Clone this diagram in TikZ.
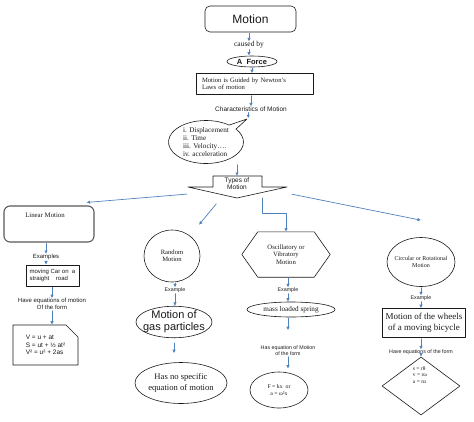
\documentclass[tikz,border=0pt]{standalone}
\usepackage{fontspec}
\setmainfont{Liberation Serif}
\setsansfont{Liberation Sans}
\usetikzlibrary{arrows.meta,positioning,shapes.geometric,shapes.misc,shapes.callouts}
\definecolor{moBlue}{HTML}{4F81BD}
\definecolor{moInk}{HTML}{1A1A1A}
\definecolor{moFrame}{HTML}{595959}
\tikzset{
  mo diagram/.style={x=1pt, y=-1pt, text=moInk, line cap=round, line join=round},
  mo shape/.style={draw=moInk, fill=white, line width=0.6pt, align=center, inner sep=0pt},
  mo box/.style={mo shape, rectangle},
  mo oval/.style={mo shape, ellipse},
  mo arrow/.style={-{Latex[length=3.5pt,width=3.5pt]}, draw=moBlue, line width=0.7pt,
    shorten <=1pt},
  mo label/.style={font=\sffamily\fontsize{6}{6.8}\selectfont, align=center, inner sep=0pt},
  mo small/.style={mo label, font=\sffamily\fontsize{5.3}{6.3}\selectfont},
  mo serif/.style={font=\rmfamily\fontsize{6.6}{7.4}\selectfont, align=center, inner sep=0pt}
}

\begin{document}
\begin{tikzpicture}[mo diagram]
\useasboundingbox (0,0) rectangle (474,421);
% top chain
\node[mo box, rounded corners=5pt, minimum width=91pt, minimum height=26pt,
  font=\sffamily\fontsize{12}{14}\selectfont] (motion) at (250.5,19) {Motion};
\node[mo serif, font=\rmfamily\fontsize{7.5}{8}\selectfont] (causedby) at (249,45) {caused by};
\node[mo oval, minimum width=50pt, minimum height=11pt,
  font=\sffamily\bfseries\fontsize{7.5}{8}\selectfont] (force) at (252,61.5) {A\ \ Force};
\node[mo box, minimum width=117pt, minimum height=21pt, inner xsep=6pt, text width=105pt,
  align=left, font=\rmfamily\fontsize{6.6}{7.4}\selectfont] (newton) at (254.5,84)
  {Motion is Guided by Newton's\\Laws of motion};
\node[mo label, font=\sffamily\fontsize{6.5}{7}\selectfont] (charact) at (251,109) {Characteristics of Motion};
\node[mo shape, ellipse callout, callout absolute pointer={(247,119)}, minimum width=75pt,
  minimum height=43pt, align=left, font=\rmfamily\fontsize{7.2}{8.3}\selectfont]
  (charlist) at (206,142) {i. Displacement\\ii. Time\\iii. Velocity….\\iv. acceleration};
\draw[mo arrow] (motion.south -| causedby.north) -- (causedby.north);
\draw[mo arrow] (causedby.south) -- (causedby.south |- force.north);
\draw[mo arrow] (force.south) -- (force.south |- newton.north);
\draw[mo arrow] (newton.south -| charact.north) -- (charact.north);

% types of motion
\draw[draw=moInk, line width=0.6pt, fill=white] (213,176) -- (262,176) -- (262,187)
  -- (287,187) -- (237,198) -- (188,187) -- (213,187) -- cycle;
\node[mo label, font=\sffamily\fontsize{6.5}{7}\selectfont] (types) at (237,184) {Types of\\Motion};
\coordinate (typesW) at (188,194);
\coordinate (typesSW) at (217,203);
\coordinate (typesSE) at (262,197);
\coordinate (typesE) at (291,194);
\draw[mo arrow] (charact.south -| charlist.pointer) -- (charlist.pointer);
\draw[mo arrow] (types.north |- charlist.south) -- (types.north |- 0,176);

% linear
\node[mo box, draw=moFrame, line width=1.1pt, rounded corners=6pt, minimum width=90pt,
  minimum height=36pt] (linear) at (49,224) {};
\node[mo serif, font=\rmfamily\fontsize{6.8}{7.5}\selectfont] (linearTxt) at (45,215) {Linear Motion};
\node[mo label] (exL) at (46,257) {Examples};
\node[mo box, minimum width=53pt, minimum height=21pt, align=left,
  font=\sffamily\fontsize{6}{7.5}\selectfont] (car) at (52.5,275.5) {moving Car on\ \ a\\straight\ \ \ \ road};
\node[mo label] (haveL) at (52,304) {Have equations of motion\\Of the form};
\node[mo box, chamfered rectangle, chamfered rectangle corners=north east,
  chamfered rectangle xsep=6pt, chamfered rectangle ysep=6pt, minimum width=65pt,
  minimum height=40pt, align=left, font=\sffamily\fontsize{6.5}{7.5}\selectfont]
  (eqL) at (45.5,345) {V = u + at\\S = ut + ½ at²\\V² = u² + 2as};
\draw[mo arrow] (linear.south -| exL.north) -- (exL.north);
\draw[mo arrow] (exL.south) -- (exL.south |- car.north);
\draw[mo arrow] (car.south -| haveL.north) -- (haveL.north);
\draw[mo arrow] (haveL.south) -- (haveL.south |- eqL.north);

% random
\node[mo oval, minimum width=56pt, minimum height=52pt, mo serif] (random) at (172,256) {Random\\Motion};
\node[mo small] (exR) at (175,290) {Example};
\node[mo oval, minimum width=76pt, minimum height=31pt, inner xsep=-4pt,
  font=\sffamily\fontsize{11}{12}\selectfont] (gas) at (174,322) {Motion of\\gas particles};
\node[mo oval, minimum width=92pt, minimum height=41pt, inner xsep=-2.5pt,
  font=\rmfamily\fontsize{8.6}{10.5}\selectfont] (nospec) at (181,383) {Has no specific\\equation of motion};
\draw[mo arrow] (random.south -| exR.north) -- (exR.north);
\draw[mo arrow] (exR.south) -- (exR.south |- gas.north);
\draw[mo arrow, shorten <=5pt, shorten >=9pt] (gas.south) -- (gas.south |- nospec.north);

% oscillatory
\node[mo serif, font=\rmfamily\fontsize{6.7}{7.6}\selectfont, minimum width=88pt,
  minimum height=45pt] (osc) at (286,254.5) {Oscillatory or\\Vibratory\\Motion};
\draw[draw=moInk, line width=0.6pt] ([xshift=16pt]osc.north west) -- ([xshift=-16pt]osc.north east)
  -- (osc.east) -- ([xshift=-16pt]osc.south east) -- ([xshift=16pt]osc.south west) -- (osc.west) -- cycle;
\node[mo small] (exO) at (288,290) {Example};
\node[mo oval, minimum width=88pt, minimum height=15pt,
  font=\rmfamily\fontsize{7.2}{8}\selectfont] (spring) at (291,309.5) {mass loaded spring};
\node[mo small] (haveO) at (288,350.5) {Has equation of Motion\\of the form};
\node[mo oval, minimum width=58pt, minimum height=36pt,
  font=\rmfamily\fontsize{5.8}{7.5}\selectfont] (fkx) at (279,390) {F = kx\ \ or\\a = ω²x};
\draw[mo arrow] (osc.south -| exO.north) -- (exO.north);
\draw[mo arrow] (exO.south) -- (exO.south |- spring.north);
\draw[mo arrow, shorten >=15pt] (spring.south -| haveO.north) -- (haveO.north);
\draw[mo arrow, shorten >=3pt] (haveO.south) -- (haveO.south |- fkx.north);

% circular
\node[mo oval, minimum width=68pt, minimum height=49pt, inner xsep=-4pt,
  font=\rmfamily\fontsize{6}{7.2}\selectfont] (circular) at (421,262) {Circular or Rotational\\Motion};
\node[mo small] (exC) at (421,298) {Example};
\node[mo box, minimum width=83pt, minimum height=29pt,
  font=\rmfamily\fontsize{9}{11}\selectfont] (wheels) at (424,323) {Motion of the wheels\\of a moving bicycle};
\node[mo small] (haveC) at (421,352) {Have equations of the form};
\node[mo shape, diamond, minimum width=78pt, minimum height=58pt] (eqC) at (421,386) {};
\node[mo serif, align=left, font=\rmfamily\fontsize{5.5}{6.6}\selectfont] (eqCtxt) at (420,375)
  {s = rθ\\v = rω\\a = rα};
\draw[mo arrow] (circular.south) -- (circular.south |- exC.north);
\draw[mo arrow] (exC.south) -- (exC.south |- wheels.north);
\draw[mo arrow] (wheels.south -| haveC.north) -- (haveC.north);
\draw[mo arrow] (haveC.south) -- (haveC.south |- eqC.north);

% from the types arrow
\draw[mo arrow] (typesW) -- ([shift={(-8pt,3pt)}]linear.north east);
\draw[mo arrow] (typesSW) -- ([shift={(7pt,12.6pt)}]random.north east);
\draw[mo arrow] (typesSE) -- ++(0,16) -| (osc.north);
\draw[mo arrow] (typesE) -- ([yshift=17pt]circular.north);
\end{tikzpicture}
\end{document}
